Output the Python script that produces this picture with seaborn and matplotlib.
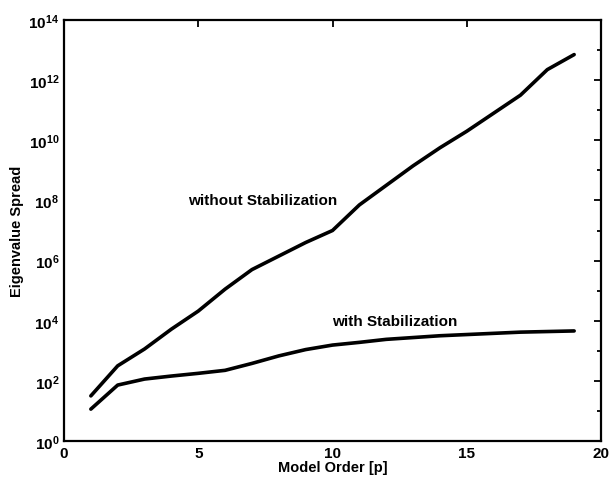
import numpy as np
import matplotlib
matplotlib.use("Agg")
import matplotlib.pyplot as plt
import matplotlib.ticker as mticker
import seaborn as sns
import pandas as pd

#---data (log10 of the eigenvalue spread)
order = list(range(1, 20))
log_without = [1.5, 2.5, 3.06, 3.72, 4.32, 5.05, 5.7, 6.15, 6.6, 7.0,
               7.85, 8.5, 9.15, 9.75, 10.3, 10.9, 11.5, 12.35, 12.85]
log_with = [1.06, 1.86, 2.06, 2.16, 2.25, 2.35, 2.58, 2.83, 3.04, 3.19,
            3.28, 3.38, 3.44, 3.5, 3.54, 3.58, 3.62, 3.64, 3.66]
labels = ['without Stabilization', 'with Stabilization']

df = pd.concat([
    pd.DataFrame({'p': order, 'spread': 10.0 ** np.array(log_without), 'case': labels[0]}),
    pd.DataFrame({'p': order, 'spread': 10.0 ** np.array(log_with), 'case': labels[1]}),
])

sns.set_style('white')
plt.rcParams['font.family'] = ['Liberation Sans', 'DejaVu Sans']
plt.rcParams['font.weight'] = 'bold'
plt.rcParams['text.color'] = 'black'
plt.rcParams['axes.labelcolor'] = 'black'
plt.rcParams['xtick.color'] = 'black'
plt.rcParams['ytick.color'] = 'black'
plt.rcParams['mathtext.fontset'] = 'custom'
plt.rcParams['mathtext.rm'] = 'Liberation Sans:bold'
plt.rcParams['mathtext.it'] = 'Liberation Sans:bold'
plt.rcParams['mathtext.bf'] = 'Liberation Sans:bold'

fig = plt.figure(figsize=(6.11, 4.85), dpi=100)
ax = fig.add_axes([64 / 611, 1 - 442 / 485, (601 - 64) / 611, (442 - 21) / 485])

sns.lineplot(data=df, x='p', y='spread', units='case', estimator=None,
             color='black', linewidth=2.6, legend=False, ax=ax)

ax.set_yscale('log')
ax.set_xlim(0, 20)
ax.set_ylim(1e0, 1e14)
ax.set_xticks([0, 5, 10, 15, 20])
ax.yaxis.set_major_locator(mticker.FixedLocator([10.0 ** k for k in range(0, 15, 2)]))
ax.yaxis.set_minor_locator(mticker.FixedLocator([10.0 ** k for k in range(1, 14, 2)]))
ax.yaxis.set_minor_formatter(mticker.NullFormatter())
ax.tick_params(which='both', direction='in', top=True, right=True,
               labelsize=11, width=1.3, color='black', labelcolor='black')
ax.tick_params(which='major', length=5)
ax.tick_params(which='minor', length=3)
for s in ax.spines.values():
    s.set_linewidth(1.6)
    s.set_color('black')

ax.text(4.62, 1e8, labels[0], fontsize=11, fontweight='bold', va='center', color='black')
ax.text(9.98, 1e4, labels[1], fontsize=11, fontweight='bold', va='center', color='black')

ax.set_xlabel('Model Order [p]', fontsize=10.5, fontweight='bold', labelpad=0, color='black')
ax.set_ylabel('Eigenvalue Spread', fontsize=10.5, fontweight='bold', labelpad=3, color='black')

fig.savefig('out.png', dpi=100)
